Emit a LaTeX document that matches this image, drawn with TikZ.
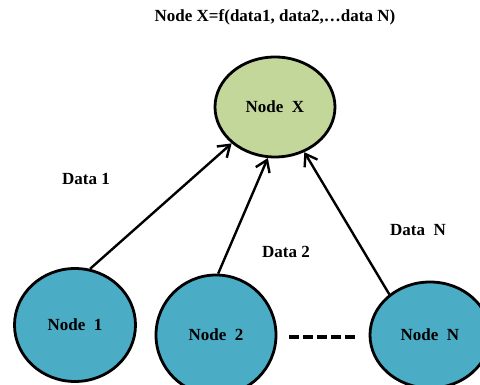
\documentclass[tikz,border=0pt]{standalone}
\usepackage{fontspec}
\setmainfont{Liberation Serif}
\usetikzlibrary{arrows.meta,shapes.geometric}
\definecolor{xgreen}{RGB}{196,215,155}
\definecolor{nblue}{RGB}{75,172,198}
\tikzset{
  nodeell/.style={ellipse, draw=black, line width=2.8pt, inner sep=0pt, font=\bfseries\fontsize{17}{19}\selectfont},
  conn/.style={line width=2.4pt, -{Straight Barb[length=11pt,width=15pt,line width=2.4pt]}},
  lbl/.style={font=\bfseries\fontsize{17}{19}\selectfont}
}
\begin{document}
\begin{tikzpicture}[x=1pt,y=-1pt]
\useasboundingbox (0,0) rectangle (480,385);
\node[lbl] (title) at (275,17) {Node X=f(data1, data2,\ldots data N)};
\node[nodeell, fill=xgreen, minimum width=120pt, minimum height=100pt] (x) at (275,107) {Node\ \ X};
\node[nodeell, fill=nblue, minimum width=121pt, minimum height=113pt] (n1) at (75,325) {Node\ \ 1};
\node[nodeell, fill=nblue, minimum width=120pt, minimum height=120pt] (n2) at (216,335) {Node\ \ 2};
\node[nodeell, fill=nblue, minimum width=120pt, minimum height=106pt] (nn) at (430,335) {Node\ \ N};
\node[lbl] (d1) at (86,179) {Data 1};
\node[lbl] (d2) at (286,252) {Data 2};
\node[lbl] (dn) at (418,230) {Data\ \ N};
\coordinate (ds) at (289,337);
\coordinate (de) at (355,337);
\draw[line width=4pt, dash pattern=on 10pt off 4pt] (ds) -- (de);
\draw[conn] (n1.75) -- (x.220);
\draw[conn] (n2.88) -- (x.262);
\draw[conn] (nn.135) -- (x.303);
\end{tikzpicture}
\end{document}
